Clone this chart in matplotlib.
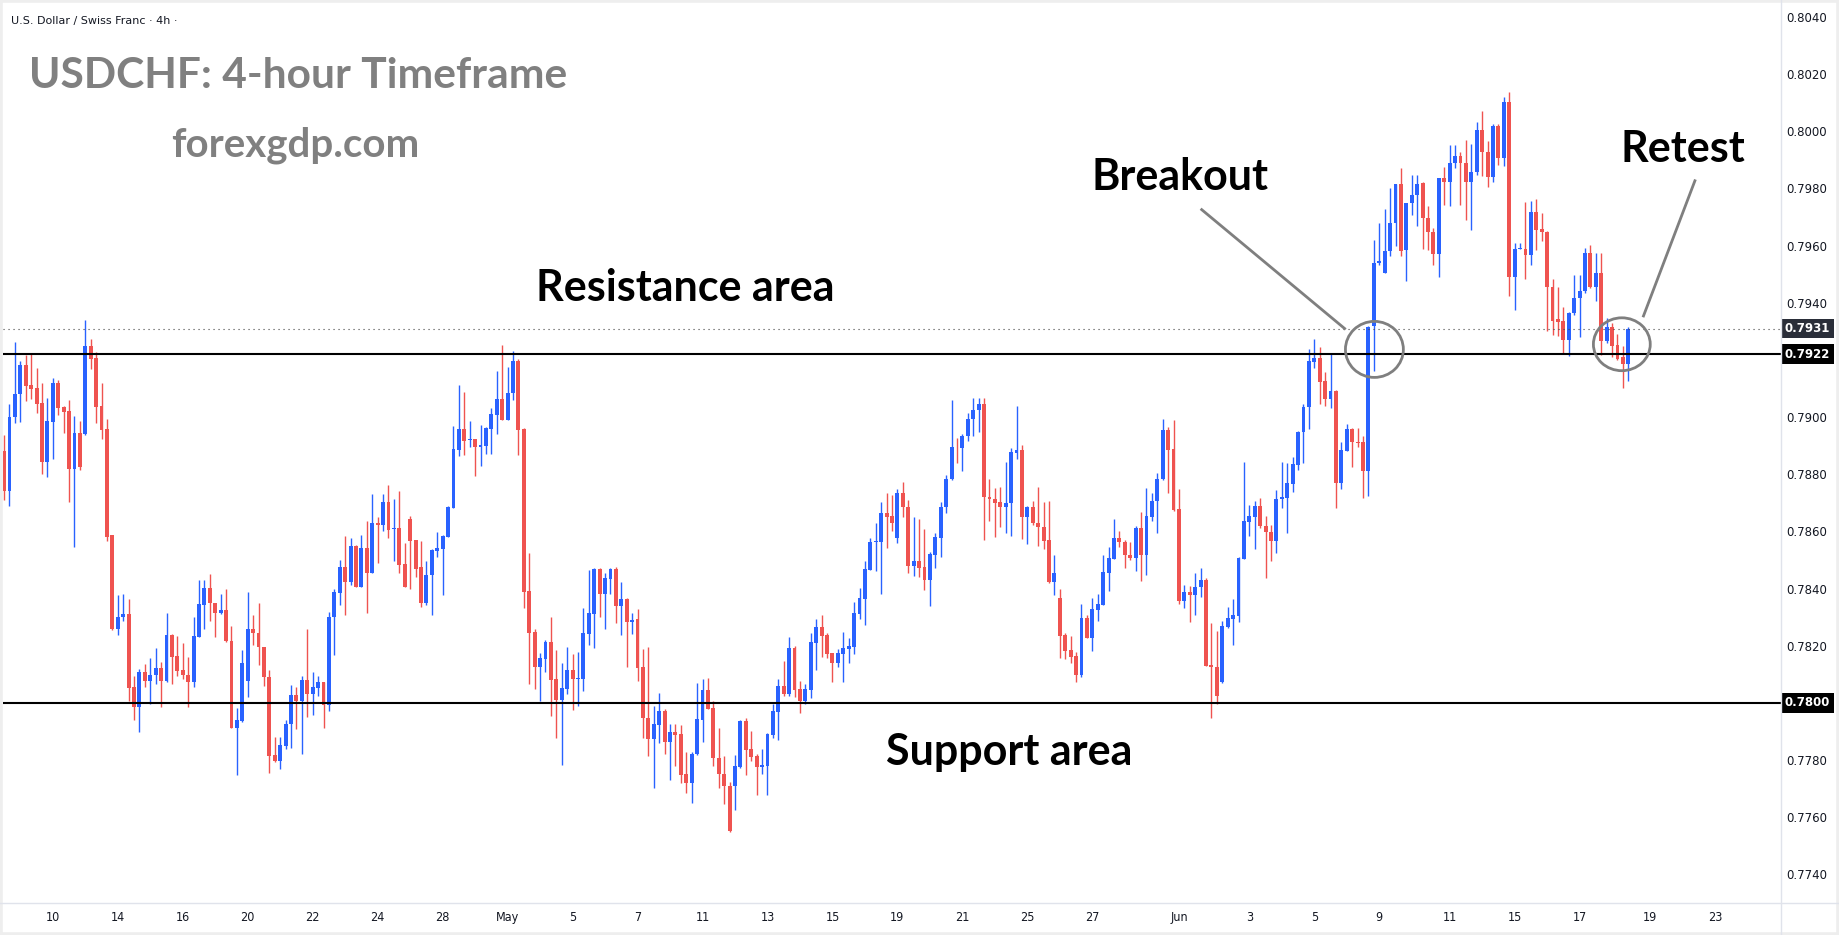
import numpy as np
import matplotlib.pyplot as plt
from matplotlib.patches import Ellipse, Rectangle
from matplotlib.lines import Line2D
import matplotlib.transforms as mtransforms

# USD/CHF 4h candles, prices in pips (1 pip = 0.0001)
opens = [
    7888.2, 7874.3, 7900.0, 7908.0, 7918.2, 7911.3, 7910.2, 7905.0, 7884.3, 7898.4,
    7912.0, 7903.6, 7902.2, 7882.0, 7894.5, 7894.2, 7924.9, 7920.8, 7903.9, 7895.9,
    7858.6, 7825.7, 7829.9, 7831.1, 7805.6, 7798.7, 7810.9, 7807.8, 7809.6, 7812.2,
    7807.8, 7823.8, 7816.4, 7811.5, 7809.8, 7807.5, 7823.2, 7834.4, 7840.2, 7835.0,
    7831.6, 7832.5, 7821.7, 7791.4, 7793.8, 7807.8, 7825.9, 7824.5, 7819.6, 7809.1,
    7781.8, 7779.8, 7785.1, 7792.5, 7802.8, 7800.8, 7808.1, 7803.3, 7805.4, 7807.4,
    7799.4, 7829.9, 7838.6, 7847.6, 7842.3, 7854.9, 7840.7, 7854.2, 7845.6, 7863.0,
    7862.3, 7870.3, 7861.0, 7861.2, 7848.6, 7864.4, 7857.0, 7847.4, 7835.1, 7844.6,
    7853.3, 7854.0, 7858.2, 7868.3, 7888.6, 7895.9, 7892.1, 7892.4, 7889.7, 7890.0,
    7896.0, 7900.9, 7906.5, 7899.1, 7908.3, 7919.8, 7895.7, 7839.1, 7824.8, 7812.6,
    7815.4, 7821.3, 7808.3, 7801.0, 7804.9, 7811.4, 7808.4, 7808.4, 7824.2, 7831.2,
    7846.9, 7838.2, 7843.5, 7846.9, 7834.0, 7836.5, 7828.4, 7829.3, 7812.5, 7794.9,
    7787.4, 7792.3, 7797.1, 7786.3, 7789.7, 7789.0, 7775.0, 7771.9, 7782.1, 7794.0,
    7804.6, 7798.1, 7780.9, 7775.3, 7771.1, 7770.9, 7777.6, 7793.7, 7783.8, 7781.3,
    7777.6, 7777.9, 7788.8, 7796.8, 7806.0, 7803.2, 7819.2, 7804.9, 7800.7, 7804.4,
    7820.9, 7826.5, 7823.7, 7817.4, 7814.0, 7817.2, 7818.9, 7819.6, 7831.2, 7836.5,
    7846.6, 7856.3, 7856.3, 7866.5, 7865.4, 7857.8, 7873.5, 7868.6, 7848.0, 7849.7,
    7847.6, 7843.1, 7851.9, 7857.8, 7868.4, 7878.2, 7889.6, 7889.1, 7893.3, 7899.2,
    7902.4, 7904.7, 7872.1, 7871.4, 7870.4, 7868.7, 7869.8, 7887.6, 7888.6, 7864.9,
    7868.6, 7863.0, 7861.6, 7857.0, 7842.4, 7836.7, 7823.7, 7818.5, 7816.4, 7809.8,
    7829.7, 7822.8, 7832.6, 7834.4, 7845.6, 7850.5, 7857.8, 7856.4, 7851.9, 7850.8,
    7861.3, 7851.9, 7865.2, 7870.5, 7878.2, 7895.6, 7888.8, 7867.8, 7835.5, 7838.7,
    7837.9, 7840.4, 7843.0, 7813.3, 7812.7, 7807.2, 7826.5, 7829.4, 7830.4, 7850.5,
    7863.4, 7865.2, 7868.9, 7861.8, 7859.9, 7856.8, 7871.3, 7871.6, 7876.6, 7883.4,
    7894.7, 7903.4, 7919.2, 7920.8, 7912.6, 7906.2, 7909.3, 7876.8, 7888.3, 7895.9,
    7891.4, 7891.2, 7881.0, 7931.8, 7953.8, 7950.5, 7958.3, 7968.0, 7981.4, 7958.5,
    7974.8, 7977.6, 7981.8, 7969.8, 7964.9, 7957.2, 7983.7, 7982.1, 7988.8, 7991.4,
    7988.8, 7982.4, 7985.6, 8000.4, 7992.6, 7984.1, 8001.9, 7990.7, 8010.3, 7949.0,
    7958.8, 7959.0, 7956.7, 7971.9, 7965.7, 7964.9, 7945.5, 7934.2, 7933.6, 7927.1,
    7936.5, 7941.7, 7944.3, 7957.3, 7945.5, 7950.5, 7926.6, 7931.6, 7925.4, 7920.9,
    7918.7,
]
highs = [
    7893.8, 7904.6, 7926.3, 7919.7, 7921.8, 7922.3, 7917.2, 7912.0, 7906.7, 7913.7,
    7913.0, 7903.8, 7906.0, 7900.4, 7898.7, 7934.0, 7927.4, 7922.7, 7912.0, 7899.4,
    7858.8, 7837.8, 7838.1, 7836.4, 7809.5, 7812.0, 7813.6, 7815.7, 7819.2, 7814.3,
    7831.3, 7824.0, 7823.4, 7820.9, 7816.1, 7830.2, 7843.0, 7842.9, 7845.1, 7835.0,
    7838.1, 7839.9, 7826.9, 7798.3, 7818.5, 7838.8, 7830.9, 7835.0, 7819.7, 7811.5,
    7788.1, 7788.1, 7794.1, 7806.3, 7805.6, 7809.5, 7825.9, 7810.9, 7809.5, 7807.5,
    7831.8, 7839.9, 7850.0, 7858.4, 7857.7, 7855.3, 7858.8, 7863.5, 7873.1, 7865.2,
    7873.1, 7876.3, 7871.4, 7874.2, 7855.8, 7865.4, 7857.1, 7856.8, 7849.8, 7853.7,
    7859.8, 7858.6, 7868.9, 7896.9, 7911.3, 7908.8, 7898.7, 7892.5, 7897.3, 7896.4,
    7903.2, 7916.2, 7925.2, 7917.7, 7923.3, 7920.5, 7896.3, 7852.5, 7825.8, 7817.4,
    7822.0, 7830.0, 7818.5, 7813.9, 7819.5, 7817.1, 7817.8, 7833.2, 7846.5, 7847.2,
    7847.2, 7845.5, 7847.2, 7847.6, 7842.3, 7836.8, 7831.4, 7832.8, 7818.8, 7819.5,
    7798.8, 7803.5, 7797.8, 7792.5, 7792.5, 7792.2, 7782.8, 7783.0, 7807.0, 7808.4,
    7808.8, 7800.7, 7791.2, 7781.4, 7772.3, 7781.8, 7794.0, 7794.7, 7790.2, 7782.0,
    7783.9, 7789.5, 7799.6, 7808.4, 7814.6, 7823.0, 7819.9, 7807.7, 7806.5, 7824.4,
    7829.3, 7830.7, 7824.4, 7817.5, 7818.8, 7824.8, 7822.7, 7835.3, 7840.2, 7849.7,
    7857.7, 7863.0, 7870.4, 7873.5, 7872.8, 7874.9, 7877.4, 7871.1, 7865.1, 7864.4,
    7860.9, 7852.8, 7859.5, 7870.4, 7879.8, 7906.1, 7892.8, 7894.2, 7901.6, 7906.8,
    7906.8, 7906.8, 7878.4, 7875.3, 7875.6, 7884.4, 7889.3, 7904.0, 7890.3, 7869.0,
    7870.7, 7875.6, 7870.4, 7870.7, 7851.8, 7839.9, 7824.4, 7823.4, 7817.8, 7834.6,
    7830.7, 7836.7, 7838.1, 7851.8, 7854.6, 7864.2, 7860.2, 7857.0, 7856.2, 7861.8,
    7866.9, 7875.2, 7873.3, 7880.4, 7899.5, 7896.4, 7899.1, 7874.9, 7841.4, 7840.9,
    7845.3, 7847.1, 7843.6, 7827.8, 7825.2, 7828.7, 7833.4, 7836.3, 7851.1, 7884.3,
    7869.3, 7870.5, 7871.7, 7865.4, 7862.3, 7874.4, 7884.3, 7883.9, 7885.9, 7895.2,
    7904.7, 7923.9, 7927.5, 7924.4, 7915.8, 7922.4, 7909.5, 7891.4, 7897.7, 7896.1,
    7896.1, 7893.4, 7931.8, 7961.9, 7968.0, 7972.7, 7980.1, 7981.7, 7987.3, 7974.9,
    7984.6, 7984.6, 7982.3, 7973.9, 7966.1, 7983.8, 7987.6, 7995.2, 7995.2, 7992.6,
    7996.9, 7995.5, 8003.1, 8007.2, 7996.7, 8002.5, 8002.5, 8011.9, 8013.9, 7961.0,
    7960.8, 7975.4, 7975.6, 7976.2, 7971.3, 7965.0, 7948.2, 7945.6, 7938.4, 7936.8,
    7949.9, 7949.9, 7959.3, 7960.1, 7957.5, 7957.5, 7934.7, 7933.0, 7929.2, 7924.8,
    7931.5,
]
lows = [
    7871.0, 7868.9, 7898.1, 7898.4, 7905.8, 7906.3, 7901.6, 7880.2, 7879.2, 7885.5,
    7900.9, 7894.6, 7870.4, 7854.4, 7881.5, 7893.8, 7917.0, 7897.9, 7892.5, 7856.5,
    7825.5, 7823.9, 7828.8, 7800.8, 7794.2, 7790.0, 7805.7, 7799.8, 7806.7, 7798.5,
    7807.5, 7806.7, 7809.5, 7808.4, 7798.5, 7805.7, 7823.0, 7825.8, 7828.8, 7822.9,
    7831.1, 7821.3, 7791.2, 7774.7, 7793.5, 7802.2, 7820.4, 7813.1, 7806.1, 7775.4,
    7779.5, 7777.0, 7783.8, 7784.4, 7791.0, 7782.3, 7795.2, 7795.9, 7802.6, 7791.4,
    7797.3, 7816.6, 7834.1, 7830.9, 7841.1, 7840.4, 7840.5, 7831.6, 7845.4, 7849.0,
    7860.3, 7857.7, 7849.5, 7845.6, 7840.5, 7840.0, 7843.9, 7833.7, 7834.4, 7830.6,
    7851.2, 7837.6, 7858.0, 7868.1, 7886.5, 7886.9, 7889.7, 7879.5, 7883.0, 7887.2,
    7887.2, 7894.2, 7898.9, 7898.9, 7905.9, 7886.6, 7833.3, 7806.7, 7804.9, 7800.7,
    7810.9, 7795.4, 7787.7, 7778.3, 7803.2, 7797.5, 7798.9, 7804.2, 7820.3, 7819.3,
    7830.1, 7825.9, 7838.2, 7828.0, 7823.8, 7812.6, 7824.2, 7807.7, 7787.7, 7781.4,
    7770.2, 7786.0, 7782.1, 7773.0, 7777.9, 7771.9, 7768.4, 7764.9, 7781.9, 7786.3,
    7797.8, 7777.9, 7770.2, 7764.6, 7755.0, 7762.5, 7777.2, 7774.8, 7779.7, 7767.7,
    7775.1, 7767.7, 7787.7, 7787.0, 7802.5, 7802.5, 7802.1, 7796.5, 7799.6, 7801.8,
    7811.6, 7816.1, 7815.8, 7807.4, 7812.6, 7807.4, 7814.0, 7817.2, 7829.4, 7827.3,
    7846.4, 7846.3, 7838.2, 7854.3, 7860.0, 7856.1, 7864.9, 7845.6, 7844.5, 7844.2,
    7839.6, 7834.0, 7847.3, 7851.2, 7866.3, 7878.0, 7884.1, 7881.0, 7891.5, 7893.3,
    7894.7, 7857.1, 7863.8, 7858.2, 7861.7, 7859.3, 7858.5, 7885.2, 7857.5, 7855.7,
    7862.4, 7855.0, 7854.0, 7842.1, 7837.9, 7815.8, 7815.4, 7814.0, 7807.4, 7809.1,
    7822.6, 7818.2, 7828.7, 7834.2, 7839.3, 7850.3, 7854.6, 7847.1, 7850.0, 7846.0,
    7842.5, 7844.8, 7863.8, 7859.3, 7878.0, 7873.3, 7867.0, 7834.5, 7833.1, 7828.2,
    7830.7, 7836.9, 7812.8, 7794.9, 7799.6, 7807.0, 7826.3, 7820.2, 7828.2, 7850.3,
    7858.3, 7854.0, 7861.3, 7843.8, 7849.5, 7852.3, 7868.2, 7859.3, 7873.7, 7881.6,
    7884.1, 7895.9, 7917.2, 7904.7, 7903.9, 7903.2, 7868.1, 7874.7, 7888.1, 7882.5,
    7889.4, 7871.7, 7872.3, 7916.0, 7953.4, 7950.3, 7956.4, 7959.8, 7956.4, 7947.6,
    7970.6, 7966.9, 7958.7, 7958.5, 7953.2, 7949.0, 7974.2, 7973.9, 7987.3, 7974.2,
    7969.0, 7965.5, 7984.8, 7984.4, 7980.5, 7982.4, 7988.3, 7987.9, 7942.3, 7937.4,
    7958.7, 7948.4, 7953.2, 7958.5, 7961.6, 7930.1, 7928.7, 7928.3, 7922.1, 7921.5,
    7935.9, 7928.1, 7943.5, 7945.3, 7940.8, 7921.9, 7926.0, 7920.9, 7920.1, 7910.2,
    7912.5,
]
closes = [
    7874.3, 7900.0, 7908.0, 7918.2, 7911.0, 7910.0, 7904.7, 7884.3, 7898.7, 7912.0,
    7903.3, 7901.9, 7882.0, 7894.5, 7882.7, 7924.9, 7920.5, 7903.7, 7895.6, 7858.2,
    7825.7, 7830.1, 7831.1, 7805.4, 7798.7, 7810.9, 7807.8, 7809.8, 7812.2, 7807.8,
    7823.8, 7816.2, 7811.3, 7809.6, 7807.5, 7823.4, 7834.6, 7840.2, 7834.8, 7831.6,
    7832.5, 7821.5, 7791.4, 7794.1, 7814.0, 7825.9, 7824.3, 7819.4, 7808.9, 7781.6,
    7779.8, 7785.3, 7792.7, 7802.8, 7800.8, 7808.1, 7803.3, 7805.6, 7807.4, 7799.4,
    7830.1, 7838.8, 7847.6, 7842.3, 7854.9, 7840.7, 7854.2, 7845.6, 7863.0, 7862.3,
    7870.3, 7860.5, 7861.2, 7848.4, 7840.7, 7856.8, 7847.0, 7835.1, 7844.8, 7853.5,
    7854.2, 7858.4, 7868.6, 7888.9, 7895.9, 7891.8, 7892.4, 7889.7, 7890.3, 7896.2,
    7901.1, 7906.4, 7899.1, 7908.6, 7919.8, 7895.4, 7838.9, 7824.5, 7812.6, 7815.7,
    7821.3, 7808.1, 7801.0, 7805.3, 7811.4, 7808.4, 7808.6, 7824.4, 7831.4, 7846.9,
    7838.2, 7843.7, 7846.9, 7834.0, 7836.5, 7828.4, 7829.1, 7812.3, 7794.7, 7787.4,
    7792.5, 7797.1, 7786.3, 7789.7, 7788.8, 7774.8, 7771.9, 7782.3, 7794.3, 7804.6,
    7797.9, 7780.7, 7775.1, 7770.9, 7755.1, 7777.9, 7793.7, 7783.5, 7781.1, 7777.6,
    7778.3, 7789.1, 7797.2, 7806.0, 7803.2, 7819.2, 7804.6, 7800.7, 7804.9, 7821.3,
    7826.5, 7823.5, 7817.2, 7814.0, 7817.4, 7819.2, 7819.9, 7831.4, 7836.7, 7846.9,
    7856.3, 7856.7, 7866.5, 7865.2, 7863.1, 7873.5, 7868.4, 7848.0, 7849.7, 7847.3,
    7843.1, 7852.1, 7858.1, 7868.6, 7878.4, 7889.6, 7889.4, 7893.5, 7899.5, 7902.6,
    7904.7, 7871.9, 7871.2, 7870.1, 7868.7, 7870.0, 7887.9, 7888.6, 7864.9, 7868.6,
    7862.8, 7861.4, 7856.8, 7842.4, 7845.5, 7823.5, 7818.2, 7816.1, 7809.8, 7829.7,
    7822.8, 7832.8, 7834.6, 7845.8, 7850.7, 7857.8, 7856.2, 7851.6, 7850.8, 7861.3,
    7851.9, 7865.4, 7870.8, 7878.4, 7895.6, 7888.5, 7867.6, 7835.5, 7838.7, 7837.9,
    7840.6, 7843.0, 7813.0, 7812.7, 7802.5, 7826.8, 7829.6, 7830.7, 7850.8, 7863.7,
    7865.4, 7868.9, 7861.8, 7859.7, 7856.8, 7871.3, 7871.9, 7876.8, 7883.7, 7894.9,
    7903.6, 7919.5, 7920.8, 7912.3, 7906.2, 7909.3, 7876.8, 7888.6, 7895.9, 7891.2,
    7890.9, 7881.0, 7931.7, 7953.8, 7954.6, 7958.3, 7968.0, 7981.4, 7958.1, 7974.8,
    7977.6, 7981.4, 7969.6, 7964.9, 7957.2, 7983.7, 7982.1, 7988.8, 7991.4, 7988.8,
    7982.4, 7985.6, 8000.4, 7992.6, 7984.1, 8001.9, 7990.7, 8010.3, 7949.0, 7959.0,
    7959.2, 7956.7, 7971.9, 7965.5, 7964.9, 7945.5, 7933.6, 7933.2, 7927.1, 7936.5,
    7941.7, 7944.3, 7957.3, 7945.5, 7950.5, 7926.6, 7931.6, 7925.0, 7920.5, 7918.7,
    7931.0,
]

# time axis labels and the bar they sit under
date_labels = ["10", "14", "16", "20", "22", "24", "28", "May", "5", "7", "11", "13", "15",
               "19", "21", "25", "27", "Jun", "3", "5", "9", "11", "15", "17", "19", "23"]
date_bars = [9, 21, 33, 45, 57, 69, 81, 93, 105, 117, 129, 141, 153,
             165, 177, 189, 201, 217, 230, 242, 254, 267, 279, 291, 304, 316]

price_ticks = [0.7740, 0.7760, 0.7780, 0.7820, 0.7840, 0.7860, 0.7880, 0.7900,
               0.7940, 0.7960, 0.7980, 0.8000, 0.8020, 0.8040]
resistance = 0.7922
support = 0.7800
last_price = 0.7931

breakout_bar = 253
retest_bar = 299

BLUE = "#2962ff"
RED = "#ef5350"
GREY = "#7f7f7f"
FRAME = "#e0e3eb"
W, H = 1839, 935

o = np.array(opens) / 1e4
h = np.array(highs) / 1e4
l = np.array(lows) / 1e4
c = np.array(closes) / 1e4
x = np.arange(len(o))
colors = np.where(c >= o, BLUE, RED)

fig = plt.figure(figsize=(W / 100, H / 100), dpi=100)
fig.patch.set_facecolor("white")
ax = fig.add_axes([3 / W, 32 / H, 1778 / W, 900 / H])
ax.set_facecolor("white")

ax.vlines(x, l, h, colors=colors, linewidth=1.0, zorder=2)
ax.bar(x, np.maximum(np.abs(c - o), 0.00003), bottom=np.minimum(o, c), width=0.72,
       color=colors, linewidth=0, zorder=3)

ax.set_xlim(-0.2, 328.2)
ax.set_ylim(0.77300, 0.80449)

# levels
ax.axhline(resistance, color="black", linewidth=1.5, zorder=4)
ax.axhline(support, color="black", linewidth=1.5, zorder=4)
ax.axhline(last_price, color="#444444", linewidth=0.8, linestyle=(0, (1, 3.5)), zorder=4)

# axes styling
for s in ax.spines.values():
    s.set_visible(False)
ax.yaxis.tick_right()
ax.set_yticks(price_ticks)
ax.set_yticklabels([f"{p:.4f}" for p in price_ticks])
ax.tick_params(axis="y", length=0, pad=4, labelsize=8.5, labelcolor="#131722")
ax.set_xticks(date_bars)
ax.set_xticklabels(date_labels, family="DejaVu Sans", stretch="condensed")
ax.tick_params(axis="x", length=0, pad=6, labelsize=9, labelcolor="#131722")

# highlighted price labels
trans = mtransforms.blended_transform_factory(ax.transAxes, ax.transData)
for price, bg in [(last_price, "#2a2e39"), (resistance, "black"), (support, "black")]:
    ax.text(1.0 + 4 / 1778, price, f"{price:.4f}", transform=trans, ha="left", va="center",
            fontsize=8.5, color="white", weight="bold", clip_on=False, zorder=6,
            bbox=dict(boxstyle="square,pad=0.28", fc=bg, ec="none"))

# annotations
bold = dict(family="Lato", weight="bold")
ax.text(125.8, 0.79405, "Resistance area", ha="center", va="baseline", fontsize=31, color="black", **bold)
ax.text(185.6, 0.77784, "Support area", ha="center", va="baseline", fontsize=31, color="black", **bold)
ax.text(217.2, 0.79795, "Breakout", ha="center", va="baseline", fontsize=31, color="black", **bold)
ax.text(310.1, 0.79893, "Retest", ha="center", va="baseline", fontsize=31, color="black", **bold)

ax.add_patch(Ellipse((breakout_bar + 0.1, 0.79237), 10.7, 0.00196, fill=False,
                     edgecolor=GREY, linewidth=2.0, zorder=5))
ax.add_patch(Ellipse((retest_bar - 0.2, 0.79255), 10.5, 0.00185, fill=False,
                     edgecolor=GREY, linewidth=2.0, zorder=5))
ax.plot([221.2, 247.6], [0.79726, 0.79310], color=GREY, linewidth=2.0, zorder=5)
ax.plot([312.3, 302.8], [0.79827, 0.79354], color=GREY, linewidth=2.0, zorder=5)

# header texts
fig.text(11 / W, 1 - 24 / H, "U.S. Dollar / Swiss Franc · 4h ·", fontsize=8,
         color="#131722", va="baseline", family="DejaVu Sans")
fig.text(29 / W, 1 - 88 / H, "USDCHF: 4-hour Timeframe", fontsize=30.6, color="#808080",
         va="baseline", **bold)
fig.text(295 / W, 1 - 157 / H, "forexgdp.com", fontsize=29, color="#808080",
         ha="center", va="baseline", **bold)

# panel separators and outer frame
fig.add_artist(Line2D([0, 1], [32 / H, 32 / H], transform=fig.transFigure, color=FRAME, linewidth=1))
fig.add_artist(Line2D([1781 / W, 1781 / W], [0, 1], transform=fig.transFigure, color=FRAME, linewidth=1))
fig.add_artist(Rectangle((0, 0), 1, 1, transform=fig.transFigure, fill=False,
                         edgecolor="#eeeeee", linewidth=4))

fig.savefig("out.png", dpi=100)
plt.close(fig)
